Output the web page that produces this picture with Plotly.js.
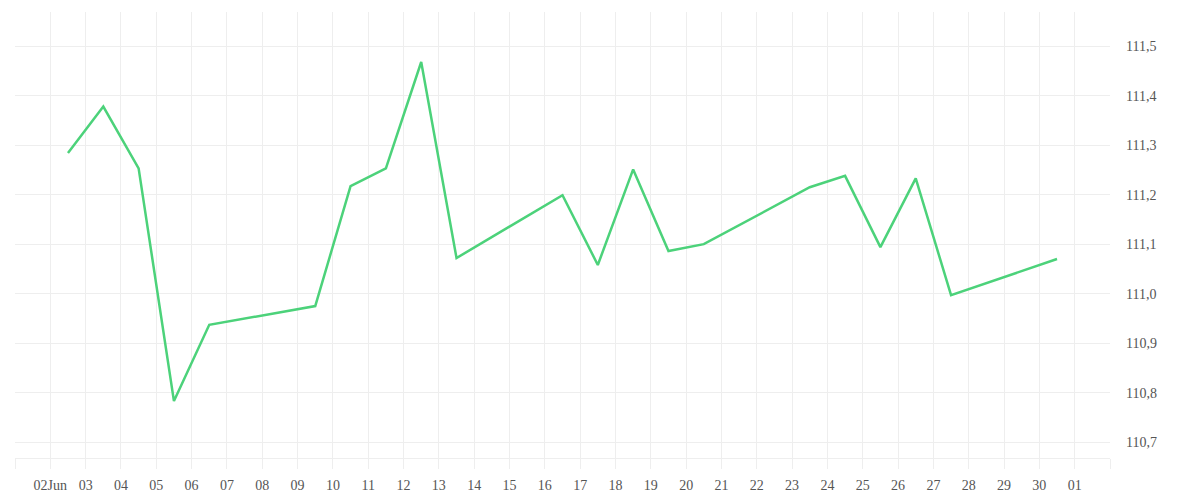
<!DOCTYPE html>
<html>
<head>
<meta charset="utf-8">
<script src="https://cdn.plot.ly/plotly-3.0.1.min.js"></script>
<style>html,body{margin:0;padding:0;background:#fff;}#chart{width:1200px;height:500px;}</style>
</head>
<body>
<div id="chart"></div>
<script>
// Trading days (weekdays) of June 2025
const dates = ['2025-06-02','2025-06-03','2025-06-04','2025-06-05','2025-06-06',
  '2025-06-09','2025-06-10','2025-06-11','2025-06-12','2025-06-13',
  '2025-06-16','2025-06-17','2025-06-18','2025-06-19','2025-06-20',
  '2025-06-23','2025-06-24','2025-06-25','2025-06-26','2025-06-27',
  '2025-06-30'];
const values = [111.284,111.378,111.253,110.783,110.937,
  110.975,111.217,111.253,111.468,111.072,
  111.199,111.058,111.251,111.086,111.100,
  111.215,111.238,111.094,111.233,110.997,
  111.070];
// Day ticks (Jun 1 .. Jul 2) and their labels
const tickDates = ['2025-06-01','2025-06-02','2025-06-03','2025-06-04','2025-06-05','2025-06-06','2025-06-07','2025-06-08',
  '2025-06-09','2025-06-10','2025-06-11','2025-06-12','2025-06-13','2025-06-14','2025-06-15','2025-06-16',
  '2025-06-17','2025-06-18','2025-06-19','2025-06-20','2025-06-21','2025-06-22','2025-06-23','2025-06-24',
  '2025-06-25','2025-06-26','2025-06-27','2025-06-28','2025-06-29','2025-06-30','2025-07-01','2025-07-02'];
const tickLabels = ['','02Jun','03','04','05','06','07','08','09','10','11','12','13','14','15','16',
  '17','18','19','20','21','22','23','24','25','26','27','28','29','30','01',''];

const font = {family: 'Liberation Serif, Times New Roman, Times, serif', size: 14, color: '#555', weight: 'normal'};

Plotly.newPlot('chart', [{
  x: dates.map(d => d + ' 12:00'),
  y: values,
  type: 'scatter',
  mode: 'lines',
  line: {color: 'rgb(76,210,122)', width: 2.5},
  hoverinfo: 'skip'
}], {
  width: 1200, height: 500,
  margin: {l: 15, r: 90, t: 12, b: 42},
  paper_bgcolor: '#fff', plot_bgcolor: '#fff',
  separators: ',.',
  showlegend: false,
  font: font,
  xaxis: {
    type: 'date',
    range: ['2025-06-01', '2025-07-02'],
    tickmode: 'array', tickvals: tickDates, ticktext: tickLabels,
    showgrid: true, gridcolor: '#eeeeee', gridwidth: 1,
    ticks: 'outside', ticklen: 10, tickcolor: '#eeeeee', tickwidth: 1,
    showline: true, linecolor: '#eeeeee', linewidth: 1,
    zeroline: false, tickfont: font, ticklabelstandoff: 4
  },
  yaxis: {
    side: 'right',
    range: [110.668, 111.569],
    dtick: 0.1, tick0: 110.7, tickformat: '.1f',
    showgrid: true, gridcolor: '#eeeeee', gridwidth: 1,
    ticks: '', zeroline: false, showline: false,
    tickfont: font, ticklabelstandoff: 15
  }
}, {displayModeBar: false, staticPlot: true});
</script>
</body>
</html>
